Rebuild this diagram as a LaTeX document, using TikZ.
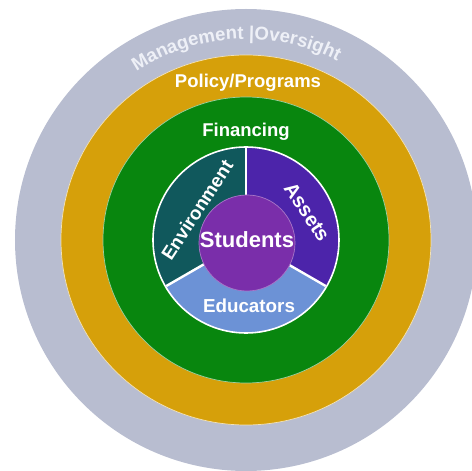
\documentclass[tikz,border=0pt]{standalone}
\usepackage{fontspec}
\setmainfont{Liberation Sans}
\usetikzlibrary{decorations.text}

\definecolor{mgmtgrey}{RGB}{184,189,208}
\definecolor{policygold}{RGB}{214,160,10}
\definecolor{financegreen}{RGB}{8,134,14}
\definecolor{envteal}{RGB}{16,88,92}
\definecolor{assetpurple}{RGB}{76,36,170}
\definecolor{educblue}{RGB}{108,146,214}
\definecolor{studpurple}{RGB}{122,46,170}
\definecolor{mgmttext}{RGB}{238,240,247}

\begin{document}
\begin{tikzpicture}[x=1pt,y=1pt,
    lbl/.style={text=white,font=\bfseries\fontsize{18.5}{20}\selectfont,inner sep=0pt},
    edge/.style={draw=#1,line width=0.7pt}]
  \useasboundingbox (-246,-231) rectangle (226,240);
  \begin{scope}
    \clip (-246,-231) rectangle (226,240);
    % rings from outside in
    \fill[mgmtgrey] (0,0) circle (231);
    \fill[policygold,edge=white!70!policygold] (0,0) circle (185);
    \fill[financegreen,edge=white!60!financegreen] (0,0) circle (143);
    % three segments
    \fill[envteal] (0,0) -- (90:93) arc[start angle=90,end angle=210,radius=93] -- cycle;
    \fill[educblue] (0,0) -- (210:93) arc[start angle=210,end angle=330,radius=93] -- cycle;
    \fill[assetpurple] (0,0) -- (330:93) arc[start angle=330,end angle=450,radius=93] -- cycle;
    \draw[white,line width=1.6pt] (0,0) circle (93);
    \foreach \a in {90,210,330}
      \draw[white,line width=2.4pt] (0,0) -- (\a:92);
    \fill[studpurple,edge=white!35!studpurple] (1,-3) circle (48);
  \end{scope}

  % labels
  \path[decorate,decoration={text along path,text align=center,
      text color=mgmttext,
      text={|\bfseries\fontsize{18.6}{20}\selectfont|Management\ {\textbar}Oversight}}]
    (131:201) arc[start angle=131,end angle=55,radius=201];
  \node[lbl] (policy) at (2,157) {Policy/Programs};
  \node[lbl] (financing) at (0,108) {Financing};
  \node[lbl,font=\bfseries\fontsize{22}{24}\selectfont] (students) at (1,0) {Students};
  \node[lbl,font=\bfseries\fontsize{18.8}{20}\selectfont] (educators) at (3,-66) {Educators};
  \node[lbl,rotate=57,font=\bfseries\fontsize{18.8}{20}\selectfont] (environment) at (-49,30) {Environment};
  \node[lbl,rotate=-56,font=\bfseries\fontsize{20}{22}\selectfont] (assets) at (61,28) {Assets};
\end{tikzpicture}
\end{document}
